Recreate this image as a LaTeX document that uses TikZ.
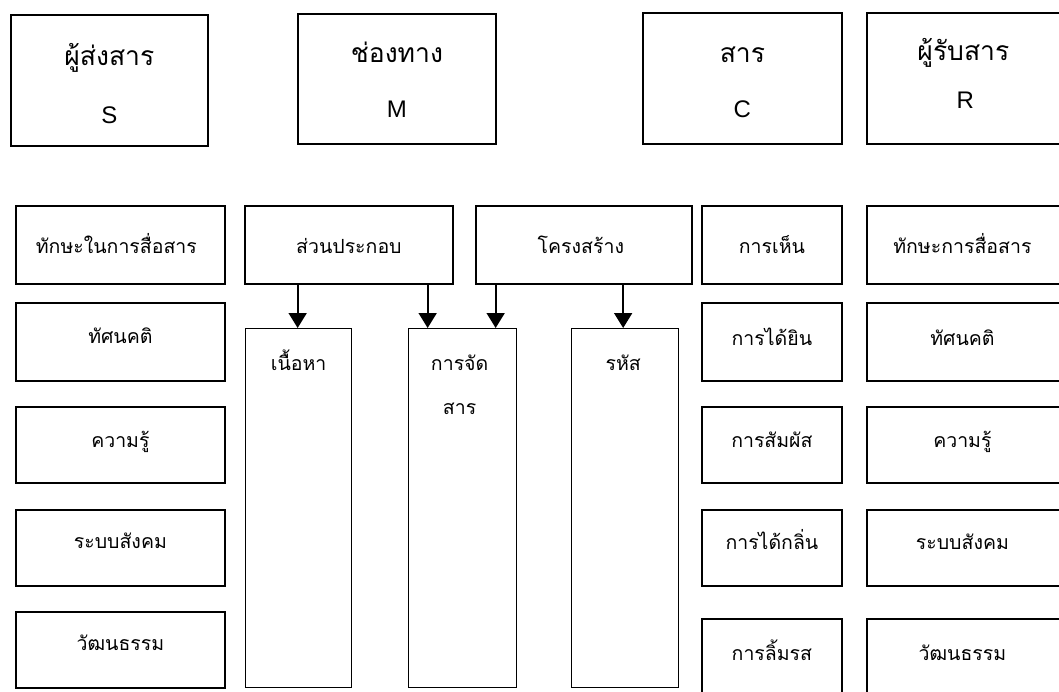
\documentclass[tikz,border=0pt]{standalone}
\usepackage{fontspec}
\setmainfont{Liberation Serif}
\newfontfamily\thaifont[Script=Thai]{Loma}
\newfontfamily\latfont{Liberation Sans}
\usetikzlibrary{arrows.meta,calc}
\begin{document}
\begin{tikzpicture}[x=1pt,y=-1pt,
  hbox/.style={draw, line width=1.8pt, inner sep=0pt, anchor=north west},
  cbox/.style={draw, line width=1.8pt, inner sep=0pt, anchor=north west, minimum height=78pt},
  tbox/.style={draw, line width=1.3pt, inner sep=0pt, anchor=north west, minimum height=359pt},
  htxt/.style={inner sep=0pt, anchor=base, font=\thaifont\fontsize{26.5}{30}\selectfont},
  ltxt/.style={inner sep=0pt, anchor=base, font=\latfont\fontsize{24}{28}\selectfont},
  btxt/.style={inner sep=0pt, anchor=base, font=\thaifont\fontsize{19.5}{23}\selectfont},
  arr/.style={line width=1.8pt, -{Triangle[width=18pt,length=15pt]}}]
\useasboundingbox (0,0) rectangle (1059,691);
\clip (0,0) rectangle (1059,691);
% header boxes
\node[hbox, minimum width=197pt, minimum height=131pt] (S) at (10,14) {};
\node[hbox, minimum width=198pt, minimum height=130pt] (M) at (297,13) {};
\node[hbox, minimum width=199pt, minimum height=131pt] (C) at (642,12) {};
\node[hbox, minimum width=199pt, minimum height=131pt] (R) at (866,12) {};
\node[htxt] (St) at ($(S.north)+(0,51)$) {ผู้ส่งสาร};
\node[ltxt] (Sl) at ($(S.north)+(0,109)$) {S};
\node[htxt] (Mt) at ($(M.north)+(0,49)$) {ช่องทาง};
\node[ltxt] (Ml) at ($(M.north)+(0,104)$) {M};
\node[htxt] (Ct) at ($(C.north)+(0,50)$) {สาร};
\node[ltxt] (Cl) at ($(C.north)+(0,105)$) {C};
\node[htxt] (Rt) at ($(R.north)+(-3,48)$) {ผู้รับสาร};
\node[ltxt] (Rl) at ($(R.north)+(-1,96)$) {R};
% left column
\node[cbox, minimum width=209pt] (L1) at (15,205) {};
\node[cbox, minimum width=209pt] (L2) at (15,302) {};
\node[cbox, minimum width=209pt, minimum height=76pt] (L3) at (15,406) {};
\node[cbox, minimum width=209pt, minimum height=76pt] (L4) at (15,509) {};
\node[cbox, minimum width=209pt, minimum height=76pt] (L5) at (15,611) {};
\node[btxt] (L1t) at ($(L1.north)+(-4,48)$) {ทักษะในการสื่อสาร};
\node[btxt] (L2t) at ($(L2.north)+(0,41)$) {ทัศนคติ};
\node[btxt] (L3t) at ($(L3.north)+(0,41)$) {ความรู้};
\node[btxt] (L4t) at ($(L4.north)+(0,39)$) {ระบบสังคม};
\node[btxt] (L5t) at ($(L5.north)+(0,39)$) {วัฒนธรรม};
% message parts
\node[cbox, minimum width=208pt] (P) at (244,205) {};
\node[cbox, minimum width=216pt] (K) at (475,205) {};
\node[btxt] (Pt) at ($(P.north)+(0,48)$) {ส่วนประกอบ};
\node[btxt] (Kt) at ($(K.north)+(-3,48)$) {โครงสร้าง};
\node[tbox, minimum width=106pt] (N) at (245,328) {};
\node[tbox, minimum width=108pt] (J) at (408,328) {};
\node[tbox, minimum width=107pt] (H) at (571,328) {};
\node[btxt] (Nt) at ($(N.north)+(0,42)$) {เนื้อหา};
\node[btxt] (Jt1) at ($(J.north)+(-3,42)$) {การจัด};
\node[btxt] (Jt2) at ($(J.north)+(-3,86)$) {สาร};
\node[btxt] (Ht) at ($(H.north)+(-2,42)$) {รหัส};
\coordinate (a1) at ($(N.north)+(-1,0)$);
\coordinate (a2) at ($(J.north)+(-35,0)$);
\coordinate (a3) at ($(J.north)+(33,0)$);
\coordinate (a4) at ($(H.north)+(-2,0)$);
\draw[arr] (a1 |- P.south) -- (a1);
\draw[arr] (a2 |- P.south) -- (a2);
\draw[arr] (a3 |- K.south) -- (a3);
\draw[arr] (a4 |- K.south) -- (a4);
% channel column
\node[cbox, minimum width=140pt] (G1) at (701,205) {};
\node[cbox, minimum width=140pt] (G2) at (701,302) {};
\node[cbox, minimum width=140pt, minimum height=76pt] (G3) at (701,406) {};
\node[cbox, minimum width=140pt, minimum height=76pt] (G4) at (701,509) {};
\node[cbox, minimum width=140pt, minimum height=90pt] (G5) at (701,618) {};
\node[btxt] (G1t) at ($(G1.north)+(0,48)$) {การเห็น};
\node[btxt] (G2t) at ($(G2.north)+(0,43)$) {การได้ยิน};
\node[btxt] (G3t) at ($(G3.north)+(0,41)$) {การสัมผัส};
\node[btxt] (G4t) at ($(G4.north)+(0,40)$) {การได้กลิ่น};
\node[btxt] (G5t) at ($(G5.north)+(0,42)$) {การลิ้มรส};
% receiver column
\node[cbox, minimum width=199pt] (Q1) at (866,205) {};
\node[cbox, minimum width=199pt] (Q2) at (866,302) {};
\node[cbox, minimum width=199pt, minimum height=76pt] (Q3) at (866,406) {};
\node[cbox, minimum width=199pt, minimum height=76pt] (Q4) at (866,509) {};
\node[cbox, minimum width=199pt, minimum height=90pt] (Q5) at (866,618) {};
\node[btxt] (Q1t) at ($(Q1.north)+(-4,48)$) {ทักษะการสื่อสาร};
\node[btxt] (Q2t) at ($(Q2.north)+(-4,43)$) {ทัศนคติ};
\node[btxt] (Q3t) at ($(Q3.north)+(-4,41)$) {ความรู้};
\node[btxt] (Q4t) at ($(Q4.north)+(-4,40)$) {ระบบสังคม};
\node[btxt] (Q5t) at ($(Q5.north)+(-4,42)$) {วัฒนธรรม};
\end{tikzpicture}
\end{document}
